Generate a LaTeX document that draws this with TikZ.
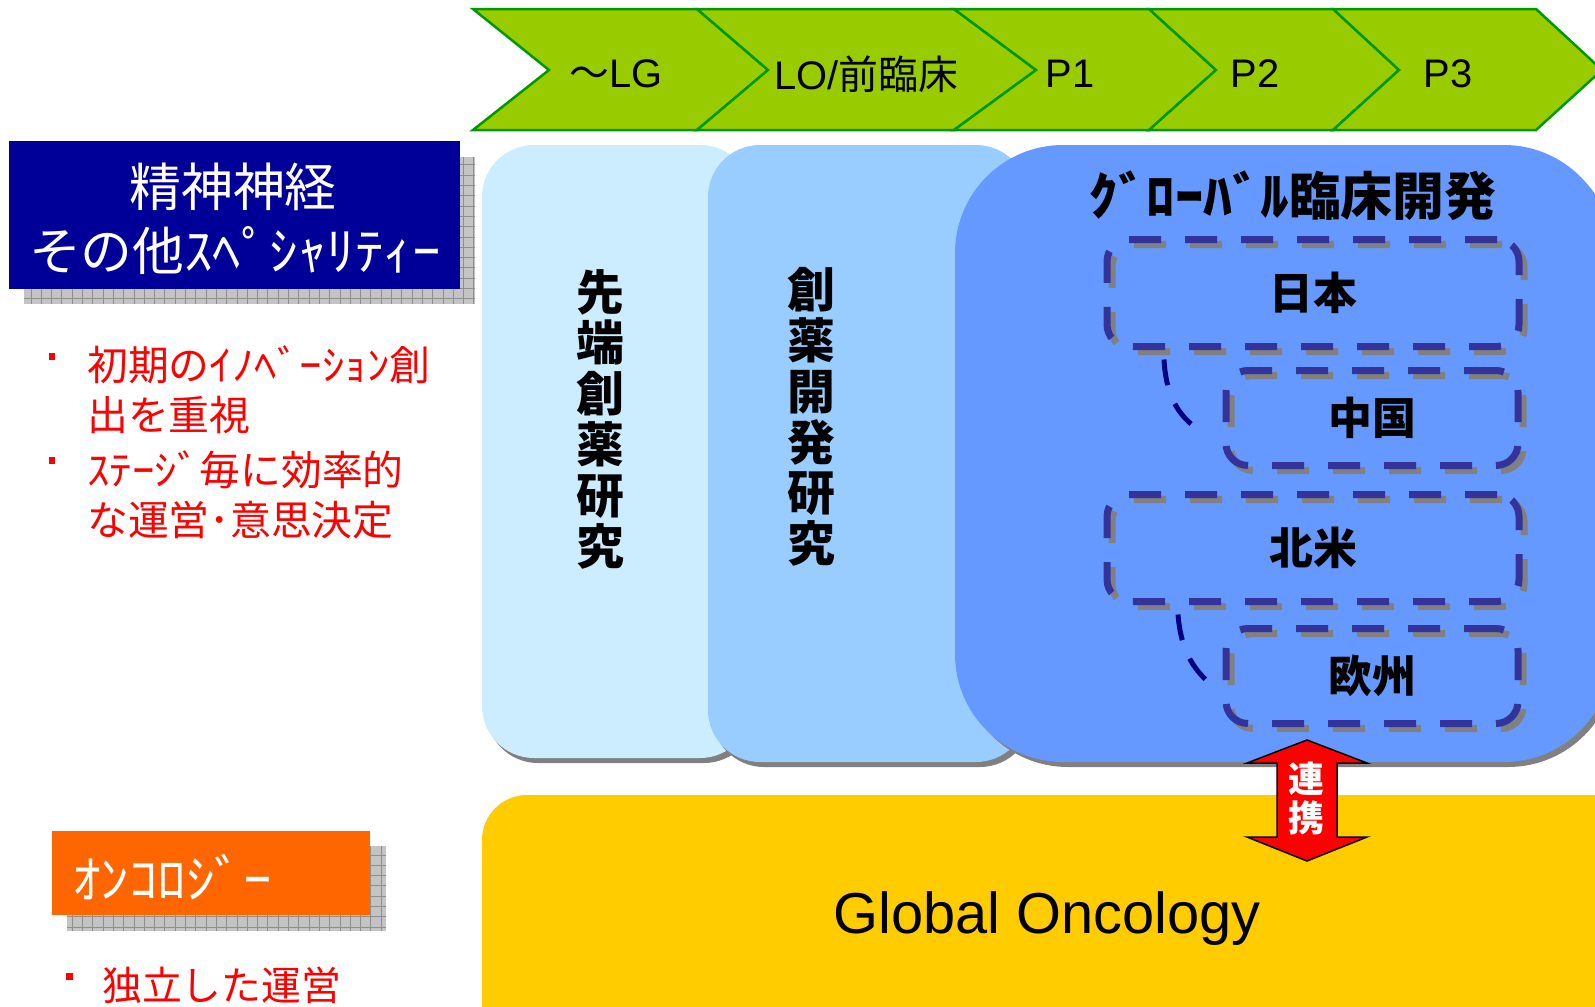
\documentclass[tikz,border=0pt]{standalone}
\usepackage{fontspec}
\setmainfont{Liberation Sans}
\newfontfamily\jp{Noto Sans CJK JP}
\newcommand\hkana[1]{\scalebox{1.1}[1]{#1}}
\definecolor{chevfill}{HTML}{99CC00}
\definecolor{chevline}{HTML}{009900}
\definecolor{navybox}{HTML}{000099}
\definecolor{orangebox}{HTML}{FF6600}
\definecolor{paneA}{HTML}{CCECFF}
\definecolor{paneB}{HTML}{99CCFF}
\definecolor{paneC}{HTML}{6699FF}
\definecolor{dashblue}{HTML}{333399}
\definecolor{connblue}{HTML}{000080}
\definecolor{goldpane}{HTML}{FFCC00}
\definecolor{shadowgray}{HTML}{808080}
\definecolor{gridbg}{HTML}{C4C4C4}
\definecolor{gridline}{HTML}{8E8E8E}
\begin{document}
\begin{tikzpicture}[x=1bp,y=-1bp,
  chev/.style={fill=chevfill, draw=chevline, line width=2.5bp, line join=miter},
  chevlabel/.style={font=\fontsize{40}{48}\selectfont, inner sep=0pt},
  gridshadow/.style={fill=gridbg},
  gridlines/.style={draw=gridline, line width=0.8bp},
  whitelabel/.style={text=white, inner sep=0pt, font=\jp\fontsize{52}{60}\selectfont},
  redtext/.style={text=red, inner sep=0pt, anchor=west, font=\jp\fontsize{41}{50}\selectfont},
  bulletsq/.style={fill=red},
  panelshadow/.style={fill=shadowgray},
  vtext/.style={align=center, inner sep=0pt, font=\jp\bfseries\fontsize{48}{51}\selectfont},
  dbox/.style={rectangle, draw=dashblue, line width=7bp, dash pattern=on 32bp off 24bp,
    rounded corners=22bp, outer sep=0pt, inner sep=0pt,
    font=\jp\bfseries\fontsize{44}{50}\selectfont},
  dboxshadow/.style={rectangle, draw=shadowgray, line width=7bp, dash pattern=on 32bp off 24bp,
    rounded corners=22bp, outer sep=0pt, inner sep=0pt},
  conn/.style={draw=connblue, line width=5bp, dash pattern=on 26bp off 20bp},
  arrowtext/.style={text=white, inner sep=0pt, font=\jp\bfseries\fontsize{36}{40}\selectfont}
]
\useasboundingbox (0,0) rectangle (1595,1006);

% ---- phase chevrons ----
\draw[chev] (473,9) -- (697,9) -- (768,70) -- (697,130) -- (473,130) -- (549,70) -- cycle;
\draw[chev] (697,9) -- (954,9) -- (1036,70) -- (954,130) -- (697,130) -- (768,70) -- cycle;
\draw[chev] (954,9) -- (1149,9) -- (1216,70) -- (1149,130) -- (954,130) -- (1036,70) -- cycle;
\draw[chev] (1149,9) -- (1333,9) -- (1399,70) -- (1333,130) -- (1149,130) -- (1216,70) -- cycle;
\draw[chev] (1333,9) -- (1536,9) -- (1602,70) -- (1536,130) -- (1333,130) -- (1399,70) -- cycle;
\node[chevlabel] (lg) at (616,74) {{\jp ～}LG};
\node[chevlabel] (lo) at (866,74) {LO/{\jp 前臨床}};
\node[chevlabel] (pa) at (1070,74) {P1};
\node[chevlabel] (pb) at (1255,74) {P2};
\node[chevlabel] (pc) at (1448,74) {P3};

% ---- left: neuroscience box ----
\fill[gridshadow] (24,157) rectangle (475,304);
\draw[gridlines, step=10.3bp] (24,157) grid (475,304);
\fill[navybox] (9,141) rectangle (460,289);
\node[whitelabel] (ns1) at (233,187) {精神神経};
\node[whitelabel] (ns2) at (235,250) {その他\hkana{ｽﾍﾟｼｬﾘﾃｨｰ}};

\fill[bulletsq] (49,353) rectangle (55,360);
\node[redtext] (b1) at (87,365) {初期の\hkana{ｲﾉﾍﾞｰｼｮﾝ}創};
\node[redtext] (b1b) at (87,415) {出を重視};
\fill[bulletsq] (49,457) rectangle (55,464);
\node[redtext] (b2) at (87,470) {\hkana{ｽﾃｰｼﾞ}毎に効率的};
\node[redtext] (b2b) at (87,520) {な運営･意思決定};

% ---- left: oncology box ----
\fill[gridshadow] (67,846) rectangle (386,931);
\draw[gridlines, step=10.3bp] (67,846) grid (386,931);
\fill[orangebox] (52,831) rectangle (370,915);
\node[whitelabel, anchor=west] (onc) at (72,877) {\hkana{ｵﾝｺﾛｼﾞｰ}};
\fill[bulletsq] (66,973) rectangle (73,980);
\node[redtext, font=\jp\fontsize{40}{48}\selectfont] (b3) at (102,985) {独立した運営};

% ---- research panels ----
\fill[panelshadow, rounded corners=52bp] (486,150) rectangle (756,763);
\fill[paneA, rounded corners=52bp] (482,145) rectangle (752,758);
\fill[panelshadow, rounded corners=52bp] (712,150) rectangle (1032,767);
\fill[paneB, rounded corners=52bp] (708,145) rectangle (1028,762);
\fill[panelshadow, rounded corners=108bp] (960,150) rectangle (1616,767);
\fill[paneC, rounded corners=108bp] (955,145) rectangle (1612,762);

\node[vtext] (r1) at (600,419) {先\\端\\創\\薬\\研\\究};
\node[vtext] (r2) at (811,417) {創\\薬\\開\\発\\研\\究};
\node[inner sep=0pt, font=\jp\bfseries\fontsize{52}{60}\selectfont] (gcd) at (1293,196) {\hkana{ｸﾞﾛｰﾊﾞﾙ}臨床開発};

% ---- regional dashed boxes ----
\node[dboxshadow, minimum width=412bp, minimum height=107bp] (jps) at (1318,298) {};
\node[dbox, minimum width=412bp, minimum height=107bp] (jp) at (1313,293) {日本};
\node[dboxshadow, minimum width=292bp, minimum height=95bp] (chs) at (1377,423) {};
\node[dbox, minimum width=292bp, minimum height=95bp] (ch) at (1372,418) {中国};
\node[dboxshadow, minimum width=412bp, minimum height=107bp] (nas) at (1318,553) {};
\node[dbox, minimum width=412bp, minimum height=107bp] (na) at (1313,548) {北米};
\node[dboxshadow, minimum width=292bp, minimum height=95bp] (eus) at (1377,681) {};
\node[dbox, minimum width=292bp, minimum height=95bp] (eu) at (1372,676) {欧州};

\draw[conn] ([xshift=57bp,yshift=-13bp]jp.south west) .. controls (1166,398) and (1180,420) .. ([xshift=-20bp,yshift=-16bp]ch.west);
\draw[conn] ([xshift=71bp,yshift=-13bp]na.south west) .. controls (1181,652) and (1194,672) .. ([xshift=-8bp,yshift=-14bp]eu.west);

% ---- oncology panel ----
\fill[goldpane, rounded corners=45bp] (482,795) rectangle (1660,1060);
\node[inner sep=0pt, font=\fontsize{58}{66}\selectfont] (go) at (1047,919) {Global Oncology};

% ---- collaboration arrow ----
\draw[fill=red, draw=black, line width=1.5bp, line join=miter]
  (1307,740) -- (1367,763) -- (1337,763) -- (1337,837) -- (1367,837) -- (1307,861)
  -- (1247,837) -- (1277,837) -- (1277,763) -- (1247,763) -- cycle;
\node[arrowtext] (rk1) at (1306,779) {連};
\node[arrowtext] (rk2) at (1306,818) {携};
\end{tikzpicture}
\end{document}
